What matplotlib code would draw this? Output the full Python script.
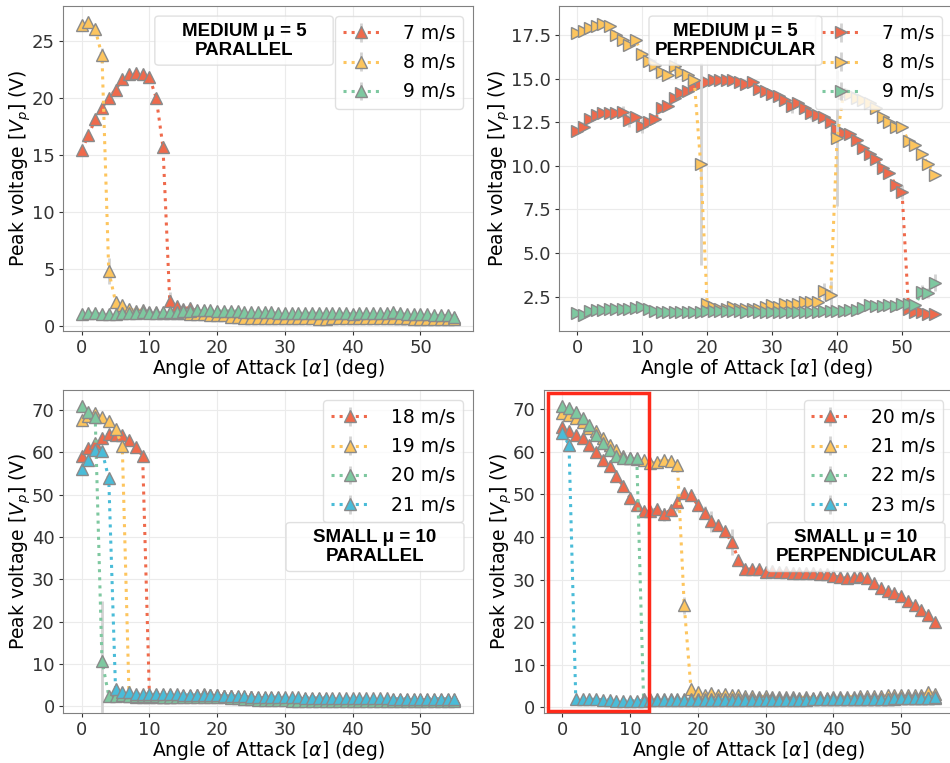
import numpy as np
import matplotlib.pyplot as plt
from matplotlib.patches import FancyBboxPatch, Rectangle

# angle of attack (deg), same for every series
angle = np.arange(0, 56)

# ---- MEDIUM mu = 5, PARALLEL ----
tl_7 = [15.4, 16.7, 18.1, 19.1, 20.0, 20.7, 21.6, 22.1, 22.2, 22.1,
        21.8, 20.0, 15.7, 2.2, 1.7, 1.5, 1.6, 1.3, 1.3, 1.2,
        1.2, 1.1, 1.0, 1.0, 0.9, 0.9, 0.9, 0.9, 0.9, 0.8,
        0.8, 0.8, 0.8, 0.8, 0.8, 0.8, 0.8, 0.8, 0.8, 0.8,
        0.8, 0.8, 0.8, 0.8, 0.8, 0.8, 0.8, 0.7, 0.7, 0.7,
        0.7, 0.7, 0.7, 0.7, 0.7, 0.7]
tl_8 = [26.4, 26.6, 26.0, 23.7, 4.8, 2.1, 1.8, 1.5, 1.3, 1.4,
        1.2, 1.2, 1.1, 1.1, 1.1, 1.1, 1.0, 1.0, 1.0, 0.9,
        0.9, 0.9, 0.8, 0.8, 0.7, 0.7, 0.7, 0.7, 0.7, 0.7,
        0.7, 0.7, 0.7, 0.7, 0.7, 0.6, 0.6, 0.7, 0.7, 0.7,
        0.7, 0.7, 0.7, 0.7, 0.7, 0.7, 0.7, 0.7, 0.7, 0.6,
        0.6, 0.6, 0.6, 0.6, 0.6, 0.6]
tl_9 = [1.0, 1.1, 1.1, 1.0, 1.0, 1.0, 1.1, 1.1, 1.1, 1.2,
        1.1, 1.1, 1.2, 1.2, 1.2, 1.3, 1.3, 1.4, 1.4, 1.4,
        1.3, 1.3, 1.3, 1.3, 1.2, 1.2, 1.2, 1.2, 1.2, 1.1,
        1.1, 1.1, 1.1, 1.1, 1.1, 1.1, 1.1, 1.1, 1.1, 1.1,
        1.0, 1.1, 1.1, 1.1, 1.1, 1.1, 1.2, 1.1, 1.0, 1.0,
        1.0, 1.0, 0.9, 0.9, 0.9, 0.8]
tl_err = [{13: 0.8}, {3: 0.7, 4: 1.1}, {}]

# ---- MEDIUM mu = 5, PERPENDICULAR ----
tr_7 = [12.0, 12.2, 12.7, 12.9, 13.0, 13.0, 13.0, 13.1, 12.6, 12.8,
        12.3, 12.5, 12.7, 13.3, 13.4, 13.9, 14.2, 14.3, 14.5, 14.7,
        14.8, 14.9, 14.9, 14.9, 14.9, 14.8, 14.7, 14.8, 14.4, 14.3,
        14.1, 14.0, 13.8, 13.4, 13.6, 13.3, 13.0, 12.9, 12.8, 12.5,
        12.1, 11.9, 11.8, 11.5, 11.0, 10.7, 10.4, 9.9, 9.6, 8.9,
        8.5, 1.8, 1.6, 1.6, 1.5, 1.5]
tr_8 = [17.6, 17.7, 17.9, 18.0, 18.1, 18.0, 17.5, 17.2, 16.9, 17.2,
        16.4, 16.0, 15.8, 15.4, 15.2, 15.7, 15.4, 15.2, 14.9, 10.1,
        2.1, 1.9, 1.8, 1.8, 1.9, 1.8, 1.8, 1.8, 1.8, 1.9,
        2.0, 1.9, 2.1, 2.0, 2.1, 2.2, 2.2, 2.2, 2.8, 2.6,
        11.6, 14.2, 14.1, 13.9, 13.8, 13.6, 13.3, 12.8, 12.5, 12.2,
        12.2, 11.4, 11.2, 10.7, 10.1, 9.5]
tr_9 = [1.55, 1.45, 1.65, 1.75, 1.75, 1.8, 1.8, 1.8, 1.8, 1.85,
        1.9, 1.8, 1.65, 1.6, 1.6, 1.6, 1.6, 1.6, 1.6, 1.6,
        1.65, 1.65, 1.65, 1.65, 1.65, 1.65, 1.6, 1.65, 1.6, 1.6,
        1.6, 1.6, 1.6, 1.6, 1.6, 1.6, 1.6, 1.6, 1.7, 1.7,
        1.7, 1.7, 1.75, 1.75, 1.85, 2.0, 1.95, 1.95, 2.0, 1.95,
        2.1, 2.1, 2.0, 2.75, 2.7, 3.3]
tr_err = [{7: 0.35, 8: 0.4, 10: 0.4, 33: 0.4, 36: 0.3, 50: 0.4},
          {19: 5.8, 38: 0.5, 39: 0.8, 40: 3.9, 15: 0.4, 12: 0.3},
          {53: 0.4, 54: 0.3, 55: 0.5, 38: 0.2}]

# ---- SMALL mu = 10, PARALLEL ----
bl_18 = [59.2, 61.0, 62.2, 63.3, 64.3, 64.0, 64.0, 62.9, 61.3, 59.1,
         2.7, 2.6, 2.6, 2.6, 2.5, 2.5, 2.5, 2.5, 2.7, 2.6,
         2.5, 2.5, 2.4, 2.3, 2.2, 2.1, 2.0, 2.0, 1.9, 1.9,
         1.8, 1.8, 1.8, 1.8, 1.7, 1.7, 1.7, 1.7, 1.6, 1.6,
         1.6, 1.6, 1.6, 1.6, 1.6, 1.6, 1.6, 1.6, 1.6, 1.6,
         1.5, 1.5, 1.5, 1.5, 1.5, 1.5]
bl_19 = [67.6, 68.5, 69.2, 68.4, 67.3, 65.5, 61.4, 2.5, 2.3, 2.2,
         2.3, 2.3, 2.2, 2.3, 2.4, 2.4, 2.5, 2.6, 2.8, 2.7,
         2.6, 2.5, 2.4, 2.3, 2.2, 2.1, 2.0, 2.0, 1.9, 1.9,
         1.8, 1.8, 1.8, 1.7, 1.7, 1.7, 1.6, 1.6, 1.6, 1.6,
         1.6, 1.6, 1.6, 1.6, 1.6, 1.5, 1.5, 1.5, 1.5, 1.5,
         1.5, 1.5, 1.5, 1.5, 1.5, 1.5]
bl_20 = [71.0, 69.6, 68.4, 10.8, 2.5, 2.4, 2.6, 2.5, 2.5, 2.4,
         2.4, 2.4, 2.3, 2.3, 2.3, 2.3, 2.3, 2.3, 2.3, 2.3,
         2.2, 2.1, 2.0, 1.9, 1.8, 1.7, 1.6, 1.5, 1.5, 1.4,
         1.4, 1.3, 1.3, 1.3, 1.3, 1.2, 1.2, 1.2, 1.2, 1.2,
         1.2, 1.2, 1.2, 1.2, 1.2, 1.2, 1.2, 1.2, 1.2, 1.2,
         1.2, 1.2, 1.2, 1.2, 1.2, 1.2]
bl_21 = [56.0, 58.2, 60.6, 60.4, 53.8, 4.2, 3.3, 3.3, 3.0, 2.9,
         2.9, 2.8, 2.8, 2.8, 2.8, 2.7, 2.7, 2.7, 2.7, 2.6,
         2.6, 2.5, 2.5, 2.4, 2.4, 2.3, 2.3, 2.2, 2.2, 2.2,
         2.1, 2.1, 2.1, 2.0, 2.0, 2.0, 2.0, 2.0, 1.9, 1.9,
         1.9, 1.9, 1.9, 1.9, 1.9, 1.9, 1.8, 1.8, 1.8, 1.8,
         1.8, 1.8, 1.8, 1.8, 1.8, 1.8]
bl_err = [{}, {}, {3: 14.0}, {}]

# ---- SMALL mu = 10, PERPENDICULAR ----
br_20 = [65.9, 64.8, 64.0, 63.2, 61.6, 59.9, 58.1, 56.6, 54.2, 51.9,
         49.2, 47.4, 46.0, 46.0, 46.6, 45.3, 46.4, 48.1, 50.3, 49.9,
         47.4, 45.7, 43.7, 42.9, 41.3, 38.8, 34.7, 32.4, 32.5, 32.4,
         31.8, 32.0, 31.8, 31.7, 31.6, 31.6, 31.5, 31.5, 31.4, 31.4,
         30.8, 30.6, 30.3, 30.6, 30.8, 30.3, 29.1, 28.1, 27.3, 26.9,
         26.1, 25.0, 24.0, 22.8, 21.6, 20.0]
br_21 = [69.2, 68.6, 68.0, 67.1, 65.5, 64.8, 63.2, 61.6, 60.4, 59.0,
         58.6, 58.4, 58.1, 57.3, 57.6, 58.1, 57.8, 56.9, 24.0, 4.2,
         3.6, 3.0, 3.3, 2.9, 3.1, 2.8, 2.9, 2.6, 2.7, 2.5,
         2.6, 2.4, 2.5, 2.4, 2.5, 2.3, 2.4, 2.3, 2.4, 2.3,
         2.4, 2.4, 2.5, 2.5, 2.6, 2.6, 2.7, 2.7, 2.8, 2.8,
         2.9, 2.9, 3.0, 3.0, 3.6, 3.2]
br_22 = [70.8, 70.2, 69.4, 67.9, 66.3, 64.0, 62.0, 60.4, 58.9, 58.5,
         58.5, 58.6, 1.9, 1.9, 1.9, 1.9, 1.9, 1.9, 1.9, 1.9,
         1.9, 1.9, 1.9, 1.9, 1.9, 1.9, 1.9, 1.9, 1.9, 1.9,
         1.9, 1.9, 1.9, 1.9, 1.9, 1.9, 1.9, 1.9, 1.9, 1.9,
         2.0, 2.0, 2.0, 2.0, 2.0, 2.0, 2.0, 2.0, 2.0, 2.0,
         2.1, 2.1, 2.1, 2.1, 2.2, 2.2]
br_23 = [64.4, 61.6, 1.9, 1.9, 1.9, 1.9, 1.8, 1.8, 1.6, 1.6,
         1.5, 1.6, 1.6, 1.7, 1.7, 1.7, 1.7, 1.7, 1.8, 1.8,
         1.8, 1.8, 1.8, 1.8, 1.8, 1.8, 1.8, 1.8, 1.8, 1.8,
         1.8, 1.8, 1.8, 1.8, 1.8, 1.8, 1.8, 1.9, 1.9, 1.9,
         1.9, 1.9, 1.9, 1.9, 1.9, 2.0, 2.0, 2.0, 2.0, 2.1,
         2.1, 2.1, 2.2, 2.3, 2.3, 2.4]
br_err = [{15: 1.5, 17: 2.0, 21: 1.5, 22: 2.5, 25: 3.0, 26: 1.0}, {18: 2.0}, {}, {}]

colors = ['#EF6A4C', '#FDC55E', '#7EC8A0', '#4ABCD8']

plt.rcParams['font.family'] = 'DejaVu Sans'
plt.rcParams['font.size'] = 13

fig = plt.figure(figsize=(9.5, 7.63), dpi=100)
W, H = 950.0, 763.0


def make_ax(x0, x1, y0, y1):
    # pixel box -> figure fraction
    return fig.add_axes([x0 / W, 1 - y1 / H, (x1 - x0) / W, (y1 - y0) / H])


def panel(ax, series, labels, errs, base_err, marker, ylim, yticks, title, box):
    for i, (vals, lab) in enumerate(zip(series, labels)):
        e = np.full(len(vals), base_err)
        for k, v in errs[i].items():
            e[k] = v
        ax.errorbar(angle, vals, yerr=e, fmt=':', marker=marker, color=colors[i],
                    lw=2.2, ms=8.5, mec='#8a8a8a', mew=1.0, ecolor='#d3d3d3',
                    elinewidth=2, capsize=0, label=lab, zorder=2 + i)
    ax.set_xlim(-2.75, 57.75)
    ax.set_ylim(*ylim)
    ax.set_xticks([0, 10, 20, 30, 40, 50])
    ax.set_yticks(yticks)
    ax.grid(True, color='#ebebeb', lw=0.8)
    ax.set_axisbelow(True)
    for s in ax.spines.values():
        s.set_color('#808080')
    ax.tick_params(colors='#333333', labelsize=13, length=3, pad=3)
    ax.set_xlabel('Angle of Attack [$\\alpha$] (deg)', fontsize=13.5, labelpad=0)
    ax.set_ylabel('Peak voltage [$V_p$] (V)', fontsize=13.5, labelpad=-1)
    ax.legend(loc='upper right', fontsize=13.5, handletextpad=1.2,
              labelspacing=0.55, borderaxespad=0.55, edgecolor='#d9d9d9')
    bx0, bx1, by0, by1 = box
    patch = FancyBboxPatch((bx0, by0), bx1 - bx0, by1 - by0,
                           boxstyle='round,pad=0,rounding_size=0.01',
                           transform=ax.transAxes, facecolor='white', alpha=0.8,
                           edgecolor='#d9d9d9', lw=1, zorder=10)
    ax.add_patch(patch)
    ax.text((bx0 + bx1) / 2, (by0 + by1) / 2, title, transform=ax.transAxes,
            ha='center', va='center', fontsize=13.5, fontweight='bold',
            family='Liberation Sans', linespacing=1.15, zorder=11)


ax1 = make_ax(63, 473, 6, 331)
panel(ax1, [tl_7, tl_8, tl_9], ['7 m/s', '8 m/s', '9 m/s'], tl_err, 0.12, '^',
      (-0.46, 28.04), [0, 5, 10, 15, 20, 25], 'MEDIUM μ = 5\nPARALLEL',
      (0.224, 0.659, 0.818, 0.969))

ax2 = make_ax(559.4, 952.4, 6, 331)
panel(ax2, [tr_7, tr_8, tr_9], ['7 m/s', '8 m/s', '9 m/s'], tr_err, 0.15, '>',
      (0.53, 19.16), [2.5, 5.0, 7.5, 10.0, 12.5, 15.0, 17.5],
      'MEDIUM μ = 5\nPERPENDICULAR', (0.228, 0.668, 0.818, 0.969))

ax3 = make_ax(63, 473, 390, 713)
panel(ax3, [bl_18, bl_19, bl_20, bl_21], ['18 m/s', '19 m/s', '20 m/s', '21 m/s'],
      bl_err, 0.4, '^', (-1.58, 74.7), [0, 10, 20, 30, 40, 50, 60, 70],
      'SMALL μ = 10\nPARALLEL', (0.544, 0.978, 0.438, 0.5895))

ax4 = make_ax(543.6, 953.6, 390, 713)
panel(ax4, [br_20, br_21, br_22, br_23], ['20 m/s', '21 m/s', '22 m/s', '23 m/s'],
      br_err, 0.5, '^', (-1.33, 74.5), [0, 10, 20, 30, 40, 50, 60, 70],
      'SMALL μ = 10\nPERPENDICULAR', (0.545, 0.979, 0.438, 0.5895))

# highlighted region
ax4.add_patch(Rectangle((-2.15, -0.94), 15.0, 74.7, fill=False,
                        edgecolor='#ff2a1a', lw=2.5, zorder=20, clip_on=False))

fig.savefig('out.png', dpi=100)
